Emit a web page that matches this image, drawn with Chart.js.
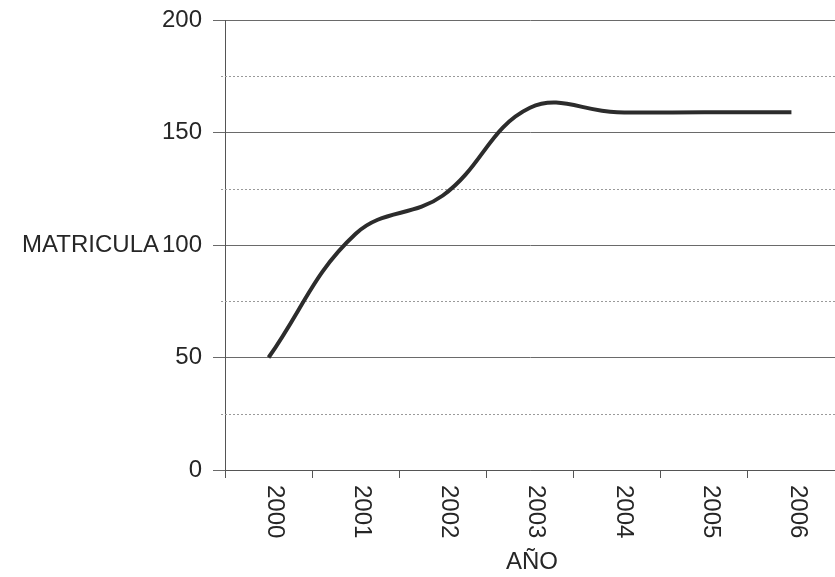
<!DOCTYPE html>
<html>
<head>
<meta charset="utf-8">
<title>Matricula por año</title>
<script src="https://cdn.jsdelivr.net/npm/chart.js@4.4.1/dist/chart.umd.min.js"></script>
<style>
    html, body { margin: 0; padding: 0; background: #ffffff; }
    #wrap { width: 835px; height: 577px; }
</style>
</head>
<body>
<div id="wrap"><canvas id="matChart" width="835" height="577"></canvas></div>
<script>
// Datos
const years = ['2000', '2001', '2002', '2003', '2004', '2005', '2006'];
const matricula = [50, 105, 122, 161, 159, 159, 159];
const yTicks = [0, 50, 100, 150, 200];
const yMinor = [25, 75, 125, 175];

const FONT = '"Liberation Sans", Arial, sans-serif';
const TEXT = '#262626';

// dotted minor lines, rotated x labels and the axis titles
const extras = {
    id: 'extras',
    beforeDatasetsDraw(chart) {
        const { ctx, chartArea, scales } = chart;
        ctx.save();
        ctx.strokeStyle = '#9a9a9a';
        ctx.lineWidth = 1;
        ctx.setLineDash([2, 2]);
        yMinor.forEach(v => {
            const y = Math.round(scales.y.getPixelForValue(v)) + 0.5;
            ctx.beginPath();
            ctx.moveTo(chartArea.left - 4, y);
            ctx.lineTo(chartArea.right, y);
            ctx.stroke();
        });
        ctx.restore();
    },
    afterDraw(chart) {
        const { ctx, chartArea, scales } = chart;
        ctx.save();
        ctx.fillStyle = TEXT;
        ctx.font = '24px ' + FONT;

        // x labels, reading top to bottom
        years.forEach((label, i) => {
            const x = scales.x.getPixelForValue(i);
            ctx.save();
            ctx.translate(x + 6, chartArea.bottom + 15);
            ctx.rotate(Math.PI / 2);
            ctx.textAlign = 'left';
            ctx.textBaseline = 'middle';
            ctx.fillText(label, 0, 0);
            ctx.restore();
        });

        // y title, horizontal next to the 100 label
        ctx.textAlign = 'right';
        ctx.textBaseline = 'middle';
        ctx.fillText('MATRICULA', 159, scales.y.getPixelForValue(100));

        // x title
        ctx.textAlign = 'center';
        ctx.textBaseline = 'middle';
        ctx.fillText('AÑO', (chartArea.left + chartArea.right) / 2 + 2, 562);
        ctx.restore();
    }
};

const ctx = document.getElementById('matChart').getContext('2d');

new Chart(ctx, {
    type: 'line',
    data: {
        labels: years,
        datasets: [{
            label: 'MATRICULA',
            data: matricula,
            borderColor: '#2c2c2c',
            borderWidth: 4,
            pointRadius: 0,
            fill: false,
            tension: 0.4
        }]
    },
    options: {
        responsive: false,
        animation: false,
        layout: { padding: { top: 20, right: 0, left: 0, bottom: 0 } },
        scales: {
            x: {
                type: 'category',
                offset: true,
                afterFit: (scale) => {
                    scale.height = 107;
                    scale.paddingLeft = 0;
                    scale.paddingRight = 0;
                },
                grid: {
                    offset: true,
                    drawOnChartArea: false,
                    drawTicks: true,
                    tickLength: 8,
                    color: '#555555'
                },
                border: { display: true, color: '#555555', width: 1 },
                ticks: { display: false }
            },
            y: {
                min: 0,
                max: 200,
                afterFit: (scale) => {
                    scale.width = 225;
                    scale.paddingTop = 0;
                    scale.paddingBottom = 0;
                },
                afterBuildTicks: (scale) => {
                    scale.ticks = yTicks.map(v => ({ value: v }));
                },
                grid: {
                    color: '#6a6a6a',
                    lineWidth: 1,
                    tickLength: 12
                },
                border: { display: true, color: '#555555', width: 1 },
                ticks: {
                    color: TEXT,
                    padding: 11,
                    font: { family: FONT, size: 24 }
                }
            }
        },
        plugins: {
            legend: { display: false },
            tooltip: { enabled: false }
        }
    },
    plugins: [extras]
});
</script>
</body>
</html>
